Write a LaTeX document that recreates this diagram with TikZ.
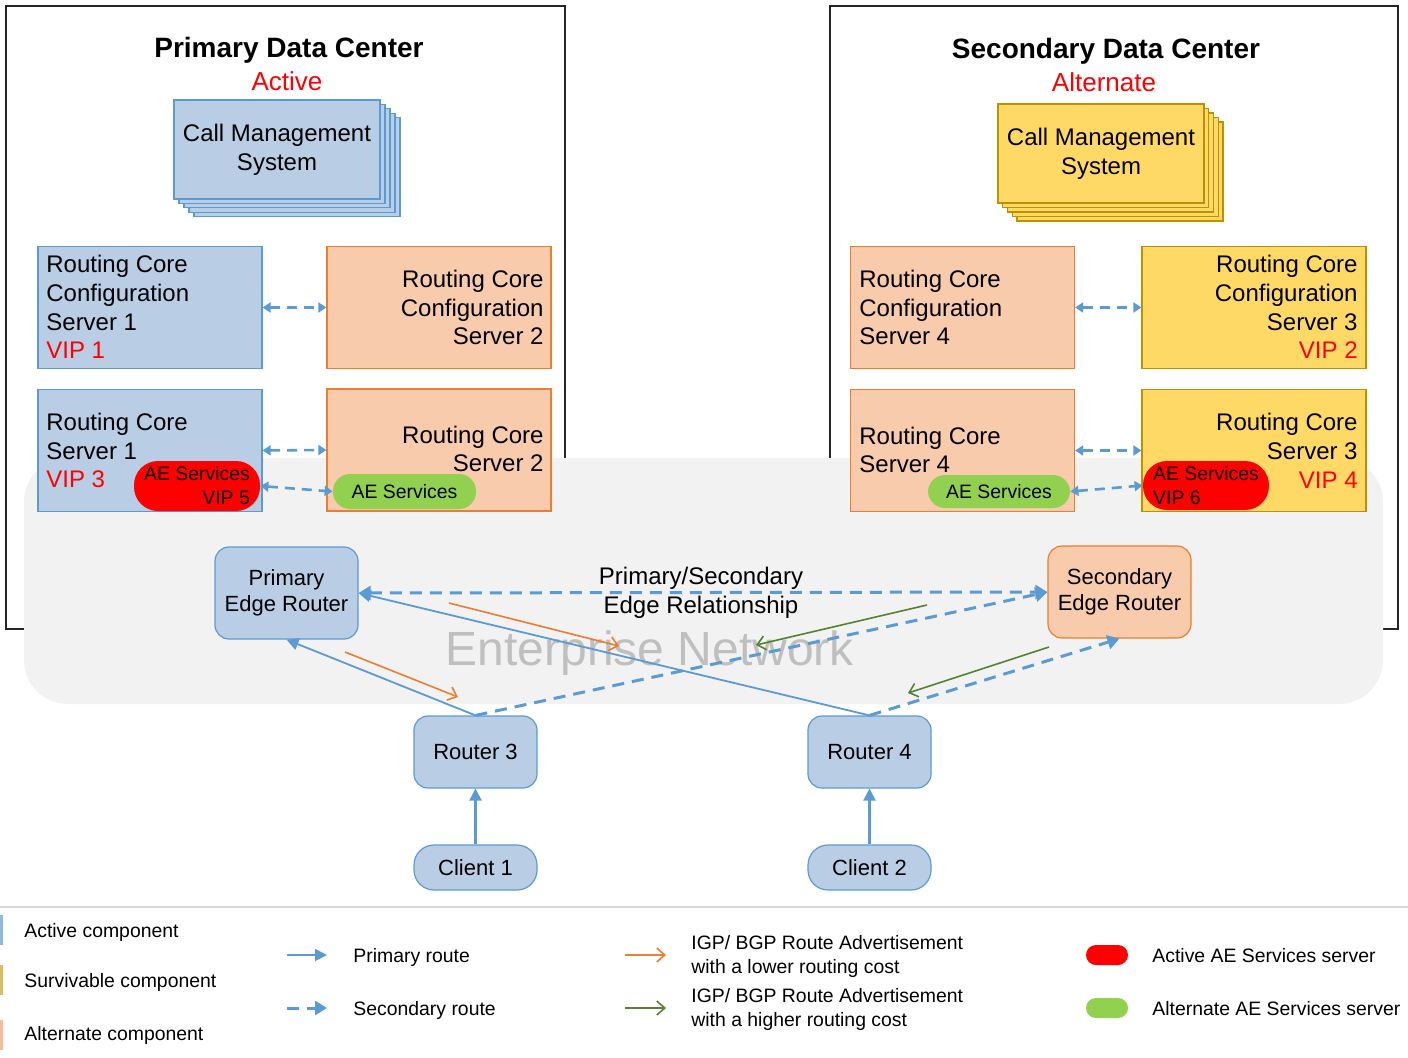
\documentclass[tikz,border=0pt]{standalone}
\usepackage{fontspec}
\setmainfont{Liberation Sans}
\usetikzlibrary{arrows.meta}

\definecolor{actfill}{RGB}{185,205,229}
\definecolor{actline}{RGB}{91,155,213}
\definecolor{altfill}{RGB}{248,203,173}
\definecolor{altline}{RGB}{237,125,49}
\definecolor{survfill}{RGB}{255,217,102}
\definecolor{survline}{RGB}{191,144,0}
\definecolor{netgray}{RGB}{242,242,242}
\definecolor{nettextgray}{RGB}{191,191,191}
\definecolor{advorange}{RGB}{237,125,49}
\definecolor{advgreen}{RGB}{84,130,53}
\definecolor{pillgreen}{RGB}{146,208,80}
\definecolor{vipred}{RGB}{255,0,0}

\tikzset{
  every node/.style={inner sep=0pt,font=\fontsize{12}{14.4}\selectfont},
  dcframe/.style={draw=black!85,line width=0.6pt},
  actbox/.style={draw=actline,fill=actfill,line width=0.6pt},
  altbox/.style={draw=altline,fill=altfill,line width=0.6pt},
  survbox/.style={draw=survline,fill=survfill,line width=0.6pt},
  rcbox/.style={minimum width=112pt,minimum height=61pt},
  cmsbox/.style={minimum width=103pt,minimum height=49.5pt,align=center},
  edgebox/.style={rounded corners=7pt,minimum width=71.5pt,minimum height=46pt,align=center,font=\fontsize{11}{13}\selectfont},
  routerbox/.style={actbox,rounded corners=7pt,minimum width=61.5pt,minimum height=36pt,font=\fontsize{11}{13}\selectfont},
  clientbox/.style={actbox,rounded corners=10pt,minimum width=61.5pt,minimum height=22.5pt,font=\fontsize{11}{13}\selectfont},
  redpill/.style={fill=vipred,font=\fontsize{9.7}{12}\selectfont},
  greenpill/.style={fill=pillgreen,font=\fontsize{9.7}{12}\selectfont},
  dctitle/.style={font=\bfseries\fontsize{14}{17}\selectfont},
  dcstate/.style={text=vipred,font=\fontsize{13}{16}\selectfont},
  nettext/.style={text=nettextgray,font=\fontsize{24}{28}\selectfont},
  legtext/.style={anchor=west,align=left,font=\fontsize{9.7}{12}\selectfont},
  primroute/.style={actline,line width=0.9pt,-{Triangle[length=6pt,width=6pt]}},
  secroute/.style={actline,line width=1.5pt,dash pattern=on 6pt off 4pt,-{Triangle[length=6pt,width=7pt]}},
  secboth/.style={actline,line width=1.3pt,dash pattern=on 5pt off 3.5pt,{Triangle[length=4pt,width=5pt]}-{Triangle[length=4pt,width=5pt]}},
  advlow/.style={advorange,line width=0.8pt,-{Straight Barb[length=4pt,width=7pt]}},
  advhigh/.style={advgreen,line width=0.8pt,-{Straight Barb[length=4pt,width=7pt]}}
}

\begin{document}
\begin{tikzpicture}[x=0.5pt,y=-0.5pt]
\useasboundingbox (0,0) rectangle (1408,1057);

\draw[dcframe] (6,6) rectangle (565,629);
\draw[dcframe] (830,6) rectangle (1398,629);
\fill[netgray,rounded corners=22pt] (24,458) rectangle (1383,704);
\node[nettext] (netlabel) at (650,653) {Enterprise Network};

\node[dctitle] (pdctitle) at (289,50) {Primary Data Center};
\node[dcstate] (pdcstate) at (287,81) {Active};
\node[dctitle] (sdctitle) at (1106,51) {Secondary Data Center};
\node[dcstate] (sdcstate) at (1104,82) {Alternate};

\foreach \i in {4,3,2,1}
  \draw[actbox] (174+5*\i,100+4.4*\i) rectangle (380+5*\i,199+4.4*\i);
\node[actbox,cmsbox] (cmsA) at (277,149.5) {Call Management\\System};
\foreach \i in {4,3,2,1}
  \draw[survbox] (998+4.75*\i,104+4.5*\i) rectangle (1204+4.75*\i,203+4.5*\i);
\node[survbox,cmsbox] (cmsB) at (1101,153.5) {Call Management\\System};

\node[actbox,rcbox] (rccs1) at (150,307.5) {};
\node[anchor=west,align=left] (rccs1t) at (46,307) {Routing Core\\Configuration\\Server 1\\\textcolor{vipred}{VIP 1}};
\node[altbox,rcbox] (rccs2) at (439,307.5) {};
\node[anchor=east,align=right] (rccs2t) at (544,307.5) {Routing Core\\Configuration\\Server 2};
\node[actbox,rcbox] (rcs1) at (150,450.5) {};
\node[anchor=west,align=left] (rcs1t) at (46,450.5) {Routing Core\\Server 1\\\textcolor{vipred}{VIP 3}};
\node[altbox,rcbox] (rcs2) at (439,450) {};
\node[anchor=east,align=right] (rcs2t) at (544,449) {Routing Core\\Server 2};
\node[redpill,rounded corners=12pt,minimum width=63pt,minimum height=25pt,align=right] (aeA) at (197,486) {AE Services\\VIP 5};
\node[greenpill,rounded corners=8.5pt,minimum width=71.5pt,minimum height=17.5pt] (aeB) at (404.5,491.5) {AE Services};

\node[altbox,rcbox] (rccs4) at (962.5,307.5) {};
\node[anchor=west,align=left] (rccs4t) at (859,307.5) {Routing Core\\Configuration\\Server 4};
\node[survbox,rcbox] (rccs3) at (1254,307.5) {};
\node[anchor=east,align=right] (rccs3t) at (1358,307) {Routing Core\\Configuration\\Server 3\\\textcolor{vipred}{VIP 2}};
\node[altbox,rcbox] (rcs4) at (962.5,450.5) {};
\node[anchor=west,align=left] (rcs4t) at (859,450) {Routing Core\\Server 4};
\node[survbox,rcbox] (rcs3) at (1254,450.5) {};
\node[anchor=east,align=right] (rcs3t) at (1358,450.5) {Routing Core\\Server 3\\\textcolor{vipred}{VIP 4}};
\node[greenpill,rounded corners=8.5pt,minimum width=71pt,minimum height=16.5pt] (aeC) at (999,491.5) {AE Services};
\node[redpill,rounded corners=12pt,minimum width=63pt,minimum height=24.5pt,align=left] (aeD) at (1206,485.5) {AE Services\\VIP 6};

\draw[secboth] (rccs1.east) -- (rccs2.west);
\draw[secboth] (rcs1.east) -- (rcs2.west);
\draw[secboth] (aeA.east) -- (aeB.west);
\draw[secboth] (rccs4.east) -- (rccs3.west);
\draw[secboth] (rcs4.east) -- (rcs3.west);
\draw[secboth] (aeC.east) -- (aeD.west);

\node[actbox,edgebox] (per) at (286.5,593) {Primary\\Edge Router};
\node[altbox,edgebox] (ser) at (1119.5,592) {Secondary\\Edge Router};
\node[routerbox] (r3) at (475.5,752) {Router 3};
\node[routerbox] (r4) at (869.5,752) {Router 4};
\node[clientbox] (cl1) at (475.5,867.5) {Client 1};
\node[clientbox] (cl2) at (869.5,867.5) {Client 2};

\node[align=center,font=\fontsize{12}{14.5}\selectfont] (edgerel) at (701,593) {Primary/Secondary\\Edge Relationship};
\draw[secroute,{Triangle[length=6pt,width=7pt]}-{Triangle[length=6pt,width=7pt]}] (per.east) -- (ser.west);
\draw[secroute] (r3.north) -- (ser.west);
\draw[secroute] (r4.north) -- (ser.south);
\draw[primroute] (r3.north) -- (per.south);
\draw[primroute] (r4.north) -- (per.east);
\draw[primroute,line width=1.2pt] (cl1) -- (r3);
\draw[primroute,line width=1.2pt] (cl2) -- (r4);

\coordinate (oa1) at (449,603);
\coordinate (oa2) at (619,646);
\coordinate (ob1) at (345,652);
\coordinate (ob2) at (458,697);
\coordinate (ga1) at (927,605);
\coordinate (ga2) at (756,645);
\coordinate (gb1) at (1049,647);
\coordinate (gb2) at (908,693);
\draw[advlow] (oa1) -- (oa2);
\draw[advlow] (ob1) -- (ob2);
\draw[advhigh] (ga1) -- (ga2);
\draw[advhigh] (gb1) -- (gb2);

\draw[black!15,line width=0.6pt] (0,907) -- (1408,907);
\draw[actline!70,line width=1.2pt] (1.5,915) -- (1.5,945);
\draw[survline!60,line width=1.2pt] (1.5,965) -- (1.5,995);
\draw[altline!50,line width=1.2pt] (1.5,1020) -- (1.5,1050);
\node[legtext] (lact) at (24,932) {Active component};
\node[legtext] (lsurv) at (24,982) {Survivable component};
\node[legtext] (lalt) at (24,1035) {Alternate component};

\coordinate (lpa) at (287,955);
\coordinate (lpb) at (327,955);
\coordinate (lsa) at (287,1008);
\coordinate (lsb) at (327,1008);
\draw[primroute] (lpa) -- (lpb);
\draw[secroute] (lsa) -- (lsb);
\node[legtext] (lprim) at (353,957) {Primary route};
\node[legtext] (lsec) at (353,1010) {Secondary route};

\coordinate (loa) at (625,955);
\coordinate (lob) at (666,955);
\coordinate (lga) at (625,1008);
\coordinate (lgb) at (666,1008);
\draw[advlow] (loa) -- (lob);
\draw[advhigh] (lga) -- (lgb);
\node[legtext] (llow) at (691,956) {IGP/ BGP Route Advertisement\\with a lower routing cost};
\node[legtext] (lhigh) at (691,1009) {IGP/ BGP Route Advertisement\\with a higher routing cost};

\node[redpill,rounded corners=5pt,minimum width=21pt,minimum height=10pt] (lred) at (1107,955) {};
\node[greenpill,rounded corners=5pt,minimum width=21pt,minimum height=10pt] (lgreen) at (1107,1008) {};
\node[legtext] (lactae) at (1152,956) {Active AE Services server};
\node[legtext] (laltae) at (1152,1009) {Alternate AE Services server};
\end{tikzpicture}
\end{document}
